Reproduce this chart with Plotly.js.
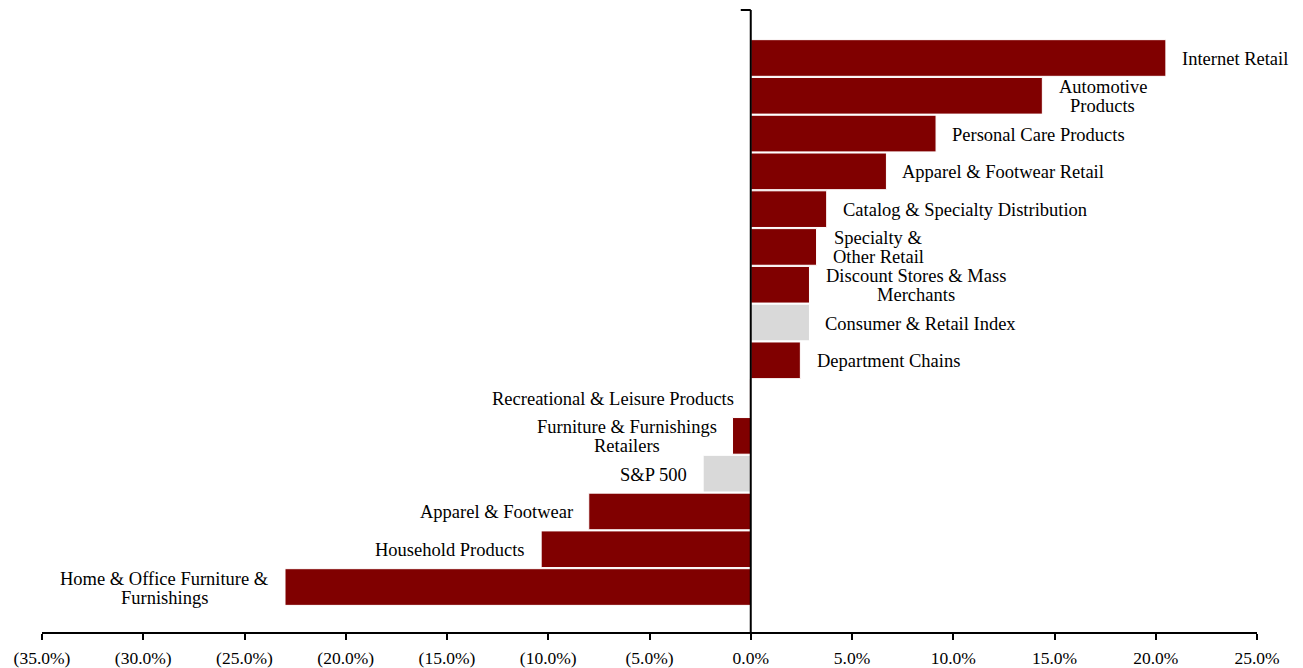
<!DOCTYPE html>
<html>
<head>
<meta charset="utf-8">
<script src="https://cdn.plot.ly/plotly-3.0.1.min.js"></script>
<style>html,body{margin:0;padding:0;background:#fff;}#chart{width:1303px;height:668px;}</style>
</head>
<body>
<div id="chart"></div>
<script>
// Categories from top to bottom
var categories = [
  "Internet Retail",
  "Automotive<br>Products",
  "Personal Care Products",
  "Apparel & Footwear Retail",
  "Catalog & Specialty Distribution",
  "Specialty &<br>Other Retail",
  "Discount Stores & Mass<br>Merchants",
  "Consumer & Retail Index",
  "Department Chains",
  "Recreational & Leisure Products",
  "Furniture & Furnishings<br>Retailers",
  "S&P 500",
  "Apparel & Footwear",
  "Household Products",
  "Home & Office Furniture &<br>Furnishings"
];
var values = [20.5, 14.4, 9.15, 6.7, 3.75, 3.25, 2.9, 2.9, 2.45, -0.05, -0.9, -2.35, -8.0, -10.35, -23.0];
var isIndex = [false, false, false, false, false, false, false, true, false, false, false, true, false, false, false];
var tickValues = [-35, -30, -25, -20, -15, -10, -5, 0, 5, 10, 15, 20, 25];
var tickLabels = ["(35.0%)", "(30.0%)", "(25.0%)", "(20.0%)", "(15.0%)", "(10.0%)", "(5.0%)", "0.0%", "5.0%", "10.0%", "15.0%", "20.0%", "25.0%"];

var n = categories.length;
var yPos = categories.map(function(c, i){ return n - 1 - i; });
var colors = isIndex.map(function(b){ return b ? "#d9d9d9" : "#800000"; });

var trace = {
  type: "bar",
  orientation: "h",
  x: values,
  y: yPos,
  marker: {color: colors, line: {color: "#ffffff", width: 1}},
  hoverinfo: "skip"
};

var fontFam = "Liberation Serif, Times New Roman, serif";
var fontSize = 18.5;
var ctx = document.createElement("canvas").getContext("2d");
ctx.font = fontSize + "px 'Liberation Serif'";
function textW(s){ return ctx.measureText(s).width; }

var annotations = [];
var lineGap = 19;
categories.forEach(function(c, i){
  var pos = values[i] >= 0;
  var lines = c.split("<br>");
  var blockW = Math.max.apply(null, lines.map(textW));
  lines.forEach(function(line, k){
    var off = (lines.length - 1) / 2 - k;
    annotations.push({
      x: values[i], y: yPos[i], xref: "x", yref: "y",
      text: line, showarrow: false,
      xanchor: "center",
      xshift: (pos ? 1 : -1) * (16 + blockW / 2),
      yshift: -1 + off * lineGap,
      font: {family: fontFam, size: fontSize, color: "#000"}
    });
  });
});

var layout = {
  width: 1303, height: 668,
  margin: {l: 42, r: 46, t: 10, b: 36},
  paper_bgcolor: "#fff", plot_bgcolor: "#fff",
  showlegend: false,
  bargap: 0.03,
  xaxis: {
    range: [-35, 25],
    tickmode: "array", tickvals: tickValues, ticktext: tickLabels,
    showgrid: false,
    zeroline: false,
    showline: true, linecolor: "#000", linewidth: 2,
    ticks: "outside", ticklen: 6, tickwidth: 2, tickcolor: "#000",
    ticklabelstandoff: 3,
    tickfont: {family: fontFam, size: 17.5, color: "#000"},
    fixedrange: true
  },
  yaxis: {
    range: [-1.19, 15.27],
    showgrid: false, zeroline: false, showline: false,
    showticklabels: false, ticks: "",
    fixedrange: true
  },
  annotations: annotations,
  shapes: [
    {type: "line", layer: "above", xref: "x", yref: "paper",
     x0: 0, x1: 0, y0: 0, y1: 1, line: {color: "#000", width: 2}},
    {type: "line", layer: "above", xref: "x", yref: "paper", xsizemode: "pixel", xanchor: 0,
     x0: -10, x1: 0, y0: 1, y1: 1, line: {color: "#000", width: 2}}
  ]
};

Plotly.newPlot("chart", [trace], layout, {displayModeBar: false, staticPlot: true});
</script>
</body>
</html>
